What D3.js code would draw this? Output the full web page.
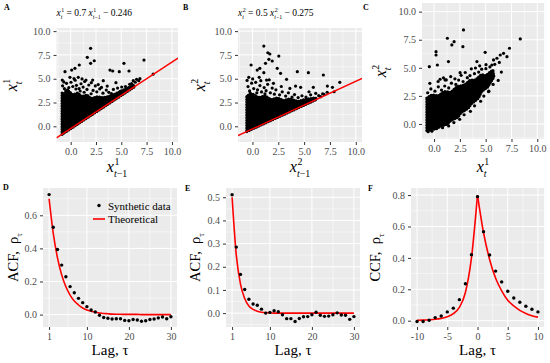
<!DOCTYPE html>
<html lang="en">
<head>
<meta charset="utf-8">
<title>Synthetic AR(1) series - scatter and correlation panels</title>
<style>
  body { margin: 0; background: #fff; }
  svg text { font-family: "Liberation Serif", "DejaVu Serif", serif; fill: #000; }
  .tick text { fill: #4d4d4d; font-size: 10px; }
  .tick line { stroke: #333; }
</style>
</head>
<body>
<script src="https://d3js.org/d3.v7.min.js"></script>
<script>
// ---------- data ----------
var scatterTicks = [0, 2.5, 5, 7.5, 10];
var scatterMinor = [-1.25, 1.25, 3.75, 6.25, 8.75];

// regression lines given in the panel titles
var fitA = {slope: 0.7, intercept: -0.246};
var fitB = {slope: 0.5, intercept: -0.275};

// dense part of each point cloud (outline, data units)
var cloudA = [[-0.85,-0.84],[6.3,4.16],[6.2,4.3],[5.6,4.0],[4.8,3.6],[4.0,3.2],[3.2,3.0],[2.6,3.1],
  [2.0,2.9],[1.6,3.3],[1.1,3.1],[0.7,3.5],[0.2,3.3],[-0.2,3.7],[-0.5,3.4],[-0.85,3.5]];
var cloudB = [[-0.55,-0.55],[6.2,2.825],[6.1,3.0],[5.0,2.8],[4.4,2.6],[3.6,2.9],[3.0,2.7],[2.4,3.0],
  [1.8,2.8],[1.2,3.2],[0.6,3.0],[0.0,3.4],[-0.55,3.2]];
var cloudC = [[-0.7,2.3],[-0.2,2.6],[0.4,2.5],[1,2.9],[1.6,2.8],[2.2,3.3],[3,3.5],[3.5,3.9],[4,3.9],
  [4.6,4.4],[5,4.3],[5.7,4.8],[5.8,4.2],[5.2,3.3],[4.6,2.9],[4.3,2.3],[3.6,1.8],[3.3,1.4],[2.6,1.0],
  [2.3,0.6],[1.6,0.3],[1.3,0.0],[0.6,-0.2],[0.3,-0.4],[-0.7,-0.6]];

// individual points outside the dense part
var pointsA = [[1.97,8.19],[1.64,7.25],[2.33,6.89],[1.97,6.62],[7.24,6.96],[5.26,6.62],[0.85,6.44],
  [0.42,6.09],[0.10,5.91],[3.88,5.91],[4.15,5.81],[4.80,5.74],[5.76,5.81],[-0.56,5.74],[0.75,5.15],
  [-0.07,5.15],[1.51,4.86],[2.17,4.86],[3.22,4.79],[4.47,4.58],[3.61,4.23],[-0.83,4.86],[6.51,4.94],
  [6.84,5.00],[8.15,5.49],[6.18,4.79],
  [-0.8,4.25],[-0.62,3.95],[-0.41,4.52],[-0.18,4.07],[0.03,4.63],[0.21,4.18],[0.44,4.84],[0.57,4.31],
  [0.83,3.96],[1.02,4.47],[1.23,4.12],[1.38,4.71],[1.61,3.88],[1.79,4.34],[2.04,4.58],[2.21,3.77],
  [2.43,4.24],[2.58,3.62],[2.87,3.93],[3.19,3.48],[3.52,3.81],[3.77,3.57],[4.22,3.88],[4.63,4.02],
  [5.04,4.13],[5.41,4.18],[5.83,4.42],[-0.68,4.66],[0.33,5.02],[1.12,4.98],[-0.31,3.83],[0.94,3.71],
  [2.72,4.38],[3.04,4.09],[1.33,3.58],[0.52,3.92],[-0.49,3.71],[2.02,3.42],[4.03,3.43],[4.91,3.68],
  [6.02,4.48],[6.38,4.63],[6.72,4.79]];
var pointsB = [[1.10,8.43],[1.49,7.73],[1.68,7.60],[2.55,7.38],[1.59,7.04],[1.91,6.86],[1.26,6.62],
  [-0.13,6.44],[0.71,6.09],[0.46,5.91],[2.40,6.09],[2.72,5.57],[1.10,5.63],[-0.36,5.15],[4.34,5.74],
  [5.41,5.63],[6.86,5.39],[3.30,4.94],[1.36,4.86],[0.65,5.15],[8.45,4.62],[7.25,4.23],[7.74,4.10],
  [7.90,3.63],[5.89,4.10],[4.66,4.10],[4.17,4.23],[6.12,3.47],[6.60,3.11],[6.92,3.36],[5.47,3.63],
  [-0.52,4.82],[-0.43,4.17],[-0.28,3.72],[-0.08,4.53],[0.12,3.96],[0.31,4.62],[0.49,3.83],[0.72,4.28],
  [0.88,3.61],[1.13,4.07],[1.32,3.74],[1.47,4.41],[1.73,3.52],[1.91,4.02],[2.12,3.38],[2.27,3.83],
  [2.62,3.31],[2.88,3.62],[3.21,3.18],[3.48,3.52],[3.83,3.08],[4.07,3.33],[4.42,3.02],[4.79,3.21],
  [5.18,3.08],[5.63,3.31],[6.41,3.22],[6.79,3.42],[7.23,3.58],[0.02,4.98],[0.81,4.79],[1.62,4.88],
  [2.03,4.52],[2.79,4.18],[3.62,3.98],[-0.21,3.48],[0.42,3.52],[1.21,3.41]];
var pointsC = [[2.85,8.37],[1.29,7.63],[1.94,7.33],[1.72,7.04],[2.79,6.88],[8.35,7.57],[0.19,6.44],
  [0.19,6.14],[4.95,6.38],[7.31,6.74],[6.41,6.14],[6.73,6.29],[7.06,5.99],[6.09,5.85],[5.76,5.70],
  [-0.46,5.10],[0.32,5.25],[1.39,5.55],[4.15,5.55],[2.52,4.57],[0.58,3.98],[1.07,3.92],[5.27,2.88],
  [4.80,3.32],[5.60,5.25],
  [-0.62,2.78],[-0.31,3.12],[0.08,2.92],[0.41,3.31],[0.72,3.02],[1.03,3.38],[1.42,3.21],[1.68,3.63],
  [2.11,3.52],[2.38,3.91],[2.81,3.78],[3.22,4.12],[3.48,4.31],[3.91,4.48],[4.32,4.62],[4.61,4.88],
  [5.02,4.92],[5.41,5.08],[5.88,5.31],[6.32,5.48],[6.52,4.62],[6.21,3.88],[5.72,3.52],[5.31,2.92],
  [4.82,2.48],[4.51,2.02],[3.92,1.61],[3.52,1.12],[2.91,0.82],[2.48,0.41],[1.92,0.12],[1.41,-0.18],
  [0.82,-0.33],[-0.21,-0.64],[-0.58,-0.69],[0.39,3.78],[1.18,3.92],[2.02,4.02],[3.02,4.58],[4.01,4.98],
  [5.03,5.28],[-0.41,3.62],[0.91,4.11],[1.61,4.22],[2.62,4.33],[3.61,4.91],[4.42,5.18]];

// autocorrelation panels
var lags = [1,2,3,4,5,6,7,8,9,10,11,12,13,14,15,16,17,18,19,20,21,22,23,24,25,26,27,28,29,30];
var acfSynthD = [0.725,0.528,0.393,0.299,0.229,0.169,0.132,0.098,0.072,0.048,0.028,0.016,-0.004,-0.018,
  -0.022,-0.027,-0.025,-0.025,-0.035,-0.037,-0.030,-0.033,-0.040,-0.037,-0.030,-0.027,-0.020,-0.015,-0.025,-0.013];
var acfTheoD = [0.700,0.490,0.343,0.240,0.168,0.118,0.082,0.058,0.040,0.028,0.020,0.014,0.010,0.007,0.005,
  0.003,0.002,0.002,0.001,0.001,0.001,0.001,0,0,0,0,0,0,0,0];
var acfSynthE = [0.511,0.285,0.167,0.102,0.060,0.039,0.034,0.017,0.000,0.003,0.010,0.006,-0.007,-0.024,
  -0.024,-0.036,-0.023,-0.016,-0.015,-0.007,0.004,-0.009,-0.014,-0.013,-0.007,0.001,-0.008,-0.009,-0.027,-0.015];
var acfTheoE = [0.500,0.250,0.125,0.063,0.031,0.016,0.008,0.004,0.002,0.001,0,0,0,0,0,0,0,0,0,0,0,0,0,0,0,0,0,0,0,0];
var lagsF = [-10,-9,-8,-7,-6,-5,-4,-3,-2,-1,0,1,2,3,4,5,6,7,8,9,10];
var ccfSynthF = [-0.005,-0.005,0.003,0.020,0.030,0.056,0.080,0.134,0.235,0.420,0.790,0.567,0.418,0.316,
  0.247,0.188,0.145,0.118,0.092,0.073,0.056];
var ccfTheoF = [0.003,0.004,0.006,0.009,0.015,0.025,0.045,0.085,0.180,0.400,0.800,0.560,0.390,0.270,
  0.190,0.130,0.094,0.066,0.046,0.032,0.023];

var lagTicksDE = [1, 10, 20, 30];
var lagMinorDE = [5.5, 15, 25];
var acfTicksD = [0, 0.2, 0.4, 0.6];
var acfMinorD = [0.1, 0.3, 0.5, 0.7];
var acfTicksE = [0, 0.1, 0.2, 0.3, 0.4, 0.5];
var acfMinorE = [-0.05, 0.05, 0.15, 0.25, 0.35, 0.45];
var lagTicksF = [-10, -5, 0, 5, 10];
var lagMinorF = [-7.5, -2.5, 2.5, 7.5];
var ccfTicksF = [0, 0.2, 0.4, 0.6, 0.8];
var ccfMinorF = [0.1, 0.3, 0.5, 0.7];
var legendLabels = ["Synthetic data", "Theoretical"];

// ---------- drawing ----------
var FONT = "'Liberation Serif', 'DejaVu Serif', serif";

var svg = d3.select("body").append("svg")
    .attr("width", 550)
    .attr("height", 363)
    .attr("font-family", FONT);

var clipCount = 0;
var f1 = d3.format(".1f");

function makePanel(box, xd, yd, xt, yt, xm, ym, fx, fy) {
    var x = d3.scaleLinear().domain(xd).range([box.l, box.r]);
    var y = d3.scaleLinear().domain(yd).range([box.b, box.t]);

    svg.append("rect")
        .attr("x", box.l).attr("y", box.t)
        .attr("width", box.r - box.l).attr("height", box.b - box.t)
        .attr("fill", "#ebebeb");

    var grid = svg.append("g").attr("stroke", "#fff");
    grid.selectAll(".vm").data(xm).join("line")
        .attr("x1", d => x(d)).attr("x2", d => x(d))
        .attr("y1", box.t).attr("y2", box.b).attr("stroke-width", 0.5);
    grid.selectAll(".hm").data(ym).join("line")
        .attr("y1", d => y(d)).attr("y2", d => y(d))
        .attr("x1", box.l).attr("x2", box.r).attr("stroke-width", 0.5);
    grid.selectAll(".vM").data(xt).join("line")
        .attr("x1", d => x(d)).attr("x2", d => x(d))
        .attr("y1", box.t).attr("y2", box.b).attr("stroke-width", 1);
    grid.selectAll(".hM").data(yt).join("line")
        .attr("y1", d => y(d)).attr("y2", d => y(d))
        .attr("x1", box.l).attr("x2", box.r).attr("stroke-width", 1);

    svg.append("g")
        .attr("transform", "translate(" + box.l + ",0)")
        .call(d3.axisLeft(y).tickValues(yt).tickSize(3).tickPadding(3).tickFormat(fy))
        .call(g => g.select(".domain").remove())
        .attr("font-family", FONT).attr("font-size", 10);
    svg.append("g")
        .attr("transform", "translate(0," + box.b + ")")
        .call(d3.axisBottom(x).tickValues(xt).tickSize(3).tickPadding(3).tickFormat(fx))
        .call(g => g.select(".domain").remove())
        .attr("font-family", FONT).attr("font-size", 10);

    var id = "clip" + (clipCount++);
    svg.append("clipPath").attr("id", id).append("rect")
        .attr("x", box.l).attr("y", box.t)
        .attr("width", box.r - box.l).attr("height", box.b - box.t);
    var plot = svg.append("g").attr("clip-path", "url(#" + id + ")");
    return {x: x, y: y, plot: plot, box: box};
}

// text with stacked sub/superscripts; parts: {t, it, sup, sub:[[str, italic],..]}
function mathText(parent, parts, fs) {
    var g = parent.append("g");
    var cx = 0;
    parts.forEach(function(p) {
        if (p.t !== undefined) {
            var t = g.append("text").attr("x", cx).attr("y", 0)
                .style("font-size", fs + "px")
                .style("font-style", p.it ? "italic" : "normal")
                .text(p.t);
            cx += t.node().getComputedTextLength();
        }
        var w = 0;
        if (p.sup !== undefined) {
            var s = g.append("text").attr("x", cx + 0.5).attr("y", -fs * 0.42)
                .style("font-size", fs * 0.62 + "px").text(p.sup);
            w = Math.max(w, s.node().getComputedTextLength() + 0.5);
        }
        if (p.sub !== undefined) {
            var s2 = g.append("text").attr("x", cx).attr("y", fs * 0.3)
                .style("font-size", fs * 0.62 + "px");
            p.sub.forEach(function(q) {
                s2.append("tspan").style("font-style", q[1] ? "italic" : "normal").text(q[0]);
            });
            w = Math.max(w, s2.node().getComputedTextLength());
        }
        cx += w;
    });
    return {g: g, w: cx};
}

function placeText(parts, fs, x, y, anchor, rotate) {
    var holder = svg.append("g");
    var m = mathText(holder, parts, fs);
    var shift = anchor === "middle" ? -m.w / 2 : 0;
    holder.attr("transform", "translate(" + x + "," + y + ")" + (rotate ? " rotate(-90)" : ""));
    m.g.attr("transform", "translate(" + shift + ",0)");
}

function panelLetter(s, x, y) {
    svg.append("text").attr("x", x).attr("y", y)
        .style("font-size", "8px").style("font-weight", "bold").text(s);
}

function drawCloud(p, outline, pts) {
    var shape = d3.line().x(d => p.x(d[0])).y(d => p.y(d[1])).curve(d3.curveLinearClosed);
    p.plot.append("path")
        .datum(outline)
        .attr("d", shape)
        .attr("fill", "#000").attr("stroke", "#000").attr("stroke-width", 1.5)
        .attr("stroke-linejoin", "round");
    // bumpy rim so the edge reads as overlapping dots
    p.plot.append("path")
        .datum(outline)
        .attr("d", shape)
        .attr("fill", "none").attr("stroke", "#000").attr("stroke-width", 3.2)
        .attr("stroke-linecap", "round").attr("stroke-dasharray", "0 2.6");
    p.plot.selectAll(".pt").data(pts).join("circle")
        .attr("cx", d => p.x(d[0])).attr("cy", d => p.y(d[1]))
        .attr("r", 1.6).attr("fill", "#000");
}

function drawFit(p, fit) {
    var xd = p.x.domain();
    p.plot.append("line")
        .attr("x1", p.x(xd[0])).attr("y1", p.y(fit.slope * xd[0] + fit.intercept))
        .attr("x2", p.x(xd[1])).attr("y2", p.y(fit.slope * xd[1] + fit.intercept))
        .attr("stroke", "#ff0000").attr("stroke-width", 1.5);
}

function drawCorr(p, xs, synth, theo, split) {
    var line = d3.line().x(d => p.x(d[0])).y(d => p.y(d[1])).curve(d3.curveMonotoneX);
    var pairs = xs.map((v, i) => [v, theo[i]]);
    var pieces = split ? [pairs.filter(d => d[0] <= 0), pairs.filter(d => d[0] >= 0)] : [pairs];
    pieces.forEach(function(seg) {
        p.plot.append("path").datum(seg).attr("d", line)
            .attr("fill", "none").attr("stroke", "#ff0000").attr("stroke-width", 1.6);
    });
    p.plot.selectAll(".pt").data(xs.map((v, i) => [v, synth[i]])).join("circle")
        .attr("cx", d => p.x(d[0])).attr("cy", d => p.y(d[1]))
        .attr("r", 1.7).attr("fill", "#000");
}

// ----- row 1: lag scatter plots -----
var pA = makePanel({l: 56.5, r: 178, t: 28, b: 142}, [-1.4, 10.6], [-1.65, 10.33],
    scatterTicks, scatterTicks, scatterMinor, scatterMinor, f1, f1);
drawCloud(pA, cloudA, pointsA);
drawFit(pA, fitA);

var pB = makePanel({l: 238, r: 362, t: 28, b: 142}, [-1.4, 10.6], [-1.65, 10.33],
    scatterTicks, scatterTicks, scatterMinor, scatterMinor, f1, f1);
drawCloud(pB, cloudB, pointsB);
drawFit(pB, fitB);

var pC = makePanel({l: 422, r: 544, t: 3, b: 139}, [-1.17, 10.65], [-1.34, 10.77],
    scatterTicks, scatterTicks, scatterMinor, scatterMinor, f1, f1);
drawCloud(pC, cloudC, pointsC);

// titles
placeText([{t: "x", it: 1, sup: "1", sub: [["t", 1]]}, {t: "\u00a0=\u00a00.7\u00a0"},
    {t: "x", it: 1, sup: "1", sub: [["t", 1], ["\u22121", 0]]}, {t: "\u00a0\u2212\u00a00.246"}],
    9.5, 56.5, 16, "start", false);
placeText([{t: "x", it: 1, sup: "2", sub: [["t", 1]]}, {t: "\u00a0=\u00a00.5\u00a0"},
    {t: "x", it: 1, sup: "2", sub: [["t", 1], ["\u22121", 0]]}, {t: "\u00a0\u2212\u00a00.275"}],
    9.5, 238, 16, "start", false);

// axis titles row 1
placeText([{t: "x", it: 1, sup: "1", sub: [["t", 1], ["\u22121", 0]]}], 16, 117, 172, "middle", false);
placeText([{t: "x", it: 1, sup: "1", sub: [["t", 1]]}], 16, 17, 85, "middle", true);
placeText([{t: "x", it: 1, sup: "2", sub: [["t", 1], ["\u22121", 0]]}], 16, 300, 172, "middle", false);
placeText([{t: "x", it: 1, sup: "2", sub: [["t", 1]]}], 16, 205, 85, "middle", true);
placeText([{t: "x", it: 1, sup: "1", sub: [["t", 1]]}], 16, 483, 172, "middle", false);
placeText([{t: "x", it: 1, sup: "2", sub: [["t", 1]]}], 16, 386, 71, "middle", true);

// ----- row 2: correlation functions -----
var pD = makePanel({l: 43, r: 177, t: 188, b: 327}, [-0.45, 31.45], [-0.075, 0.765],
    lagTicksDE, acfTicksD, lagMinorDE, acfMinorD, d => String(d), f1);
drawCorr(pD, lags, acfSynthD, acfTheoD, false);

var pE = makePanel({l: 226, r: 360, t: 188, b: 327}, [-0.45, 31.45], [-0.06, 0.54],
    lagTicksDE, acfTicksE, lagMinorDE, acfMinorE, d => String(d), f1);
drawCorr(pE, lags, acfSynthE, acfTheoE, false);

var pF = makePanel({l: 411, r: 544, t: 188, b: 327}, [-11, 11], [-0.04, 0.845],
    lagTicksF, ccfTicksF, lagMinorF, ccfMinorF, d => String(d), f1);
drawCorr(pF, lagsF, ccfSynthF, ccfTheoF, true);

// axis titles row 2
[[pD, "ACF,\u00a0\u00a0\u03c1", 18], [pE, "ACF,\u00a0\u00a0\u03c1", 199.5], [pF, "CCF,\u00a0\u00a0\u03c1", 380]]
    .forEach(function(a) {
        var b = a[0].box;
        placeText([{t: a[1], sub: [["\u03c4", 0]]}], 14.5, a[2], (b.t + b.b) / 2, "middle", true);
        svg.append("text")
            .attr("x", (b.l + b.r) / 2).attr("y", 355)
            .attr("text-anchor", "middle")
            .style("font-size", "15px")
            .text("Lag, \u03c4");
    });

// legend in panel D
var leg = svg.append("g").attr("transform", "translate(93,205.5)");
leg.append("circle").attr("cx", 6).attr("cy", 0).attr("r", 1.7).attr("fill", "#000");
leg.append("line").attr("x1", 0).attr("x2", 12).attr("y1", 13.5).attr("y2", 13.5)
    .attr("stroke", "#ff0000").attr("stroke-width", 1.6);
leg.selectAll(".lt").data(legendLabels).join("text")
    .attr("x", 15).attr("y", (d, i) => 4 + i * 13.5)
    .style("font-size", "11px")
    .text(d => d);

// panel letters
panelLetter("A", 4, 10);
panelLetter("B", 183, 10);
panelLetter("C", 363, 10);
panelLetter("D", 3, 189.5);
panelLetter("E", 185, 190.5);
panelLetter("F", 368, 190.5);
</script>
</body>
</html>
